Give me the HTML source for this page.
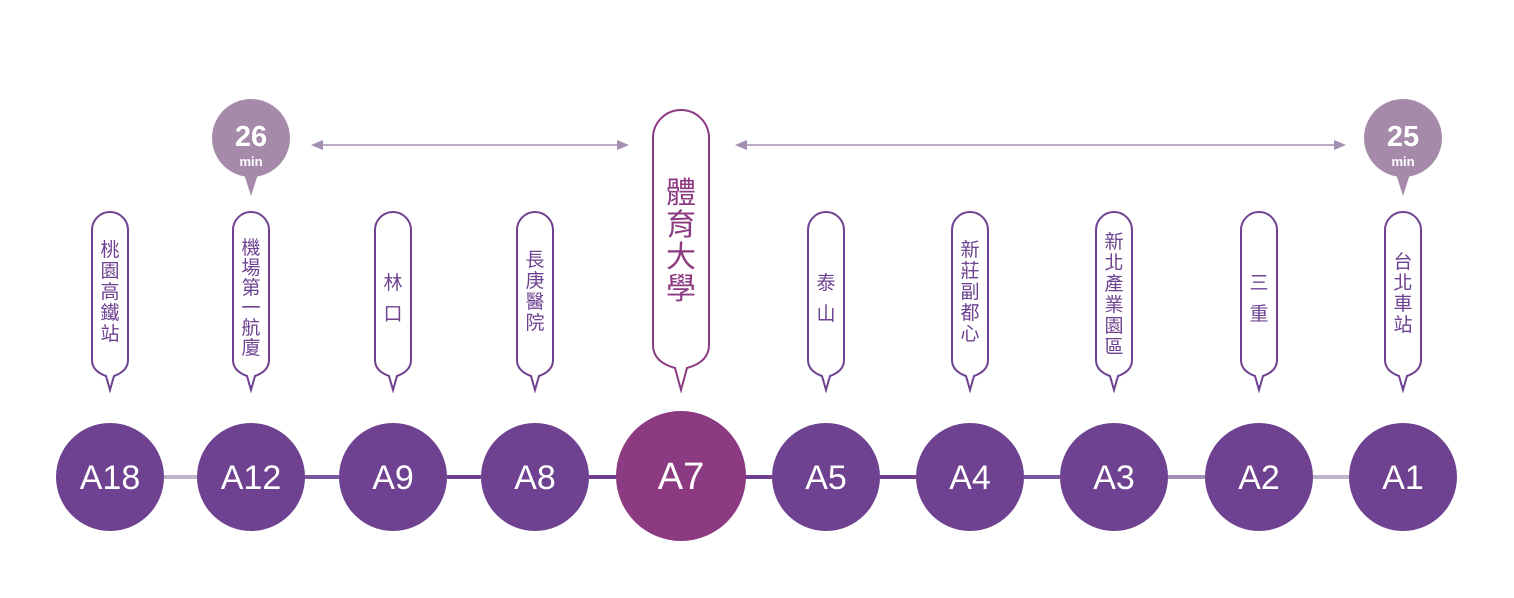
<!DOCTYPE html>
<html><head><meta charset="utf-8"><style>
html,body{margin:0;padding:0;background:#fff;}
svg{display:block}
.c{font-family:"Liberation Sans","Noto Sans CJK TC",sans-serif;}
</style></head><body>
<svg width="1514" height="598" viewBox="0 0 1514 598" xmlns="http://www.w3.org/2000/svg" class="c">
<!-- connectors -->
<g stroke-width="4">
<line x1="164" y1="477" x2="197" y2="477" stroke="#bdb3c9"/>
<line x1="305" y1="477" x2="339" y2="477" stroke="#7a569c"/>
<line x1="447" y1="477" x2="481" y2="477" stroke="#6e3f8f"/>
<line x1="589" y1="477" x2="620" y2="477" stroke="#6e3f8f"/>
<line x1="740" y1="477" x2="772" y2="477" stroke="#6e3f8f"/>
<line x1="880" y1="477" x2="916" y2="477" stroke="#6e3f8f"/>
<line x1="1024" y1="477" x2="1060" y2="477" stroke="#7a569c"/>
<line x1="1168" y1="477" x2="1205" y2="477" stroke="#a48fb8"/>
<line x1="1313" y1="477" x2="1349" y2="477" stroke="#bdb3c9"/>
</g>
<!-- circles -->
<g fill="#6e4290">
<circle cx="110" cy="477" r="54"/><circle cx="251" cy="477" r="54"/><circle cx="393" cy="477" r="54"/><circle cx="535" cy="477" r="54"/>
<circle cx="826" cy="477" r="54"/><circle cx="970" cy="477" r="54"/><circle cx="1114" cy="477" r="54"/><circle cx="1259" cy="477" r="54"/><circle cx="1403" cy="477" r="54"/>
</g>
<circle cx="681" cy="476" r="65" fill="#8c3a82"/>
<g fill="#fff" font-size="34" text-anchor="middle">
<text x="110" y="489">A18</text><text x="251" y="489">A12</text><text x="393" y="489">A9</text><text x="535" y="489">A8</text>
<text x="681" y="489" font-size="38">A7</text>
<text x="826" y="489">A5</text><text x="970" y="489">A4</text><text x="1114" y="489">A3</text><text x="1259" y="489">A2</text><text x="1403" y="489">A1</text>
</g>
<!-- bubbles -->
<g fill="#fff" stroke="#6e4290" stroke-width="2">
<path id="b" d="M92,230 A18,18 0 0 1 128,230 L128,360 Q128,371 114,376 L110,390 L106,376 Q92,371 92,360 Z"/>
<use href="#b" x="141"/><use href="#b" x="283"/><use href="#b" x="425"/><use href="#b" x="716"/><use href="#b" x="860"/><use href="#b" x="1004"/><use href="#b" x="1149"/><use href="#b" x="1293"/>
</g>
<path d="M653,138 A28,28 0 0 1 709,138 L709,345 Q709,362 687,368 L681,390 L675,368 Q653,362 653,345 Z" fill="#fff" stroke="#8c3a82" stroke-width="2"/>
<!-- station names -->
<g fill="#6e4290" font-size="19" text-anchor="middle">
<text x="110" y="256">桃</text><text x="110" y="277">園</text><text x="110" y="298">高</text><text x="110" y="319">鐵</text><text x="110" y="340">站</text>
<text x="251" y="254">機</text><text x="251" y="274">場</text><text x="251" y="294">第</text><text x="251" y="314">一</text><text x="251" y="334">航</text><text x="251" y="354">廈</text>
<text x="393" y="289">林</text><text x="393" y="320">口</text>
<text x="535" y="266">長</text><text x="535" y="287">庚</text><text x="535" y="308">醫</text><text x="535" y="329">院</text>
<text x="826" y="289">泰</text><text x="826" y="320">山</text>
<text x="970" y="256">新</text><text x="970" y="277">莊</text><text x="970" y="298">副</text><text x="970" y="319">都</text><text x="970" y="340">心</text>
<text x="1114" y="248">新</text><text x="1114" y="269">北</text><text x="1114" y="290">產</text><text x="1114" y="311">業</text><text x="1114" y="332">園</text><text x="1114" y="353">區</text>
<text x="1259" y="289">三</text><text x="1259" y="320">重</text>
<text x="1403" y="268">台</text><text x="1403" y="289">北</text><text x="1403" y="310">車</text><text x="1403" y="331">站</text>
</g>
<g fill="#8c3a82" font-size="30" text-anchor="middle">
<text x="681" y="203">體</text><text x="681" y="235">育</text><text x="681" y="267">大</text><text x="681" y="299">學</text>
</g>
<!-- min bubbles -->
<g fill="#a58ba9">
<circle cx="251" cy="138" r="39"/><path d="M244,174 L251,196 L258,174 Z"/>
<circle cx="1403" cy="138" r="39"/><path d="M1396,174 L1403,196 L1410,174 Z"/>
</g>
<g fill="#fff" text-anchor="middle" font-weight="bold">
<text x="251" y="146" font-size="29">26</text><text x="251" y="166" font-size="13">min</text>
<text x="1403" y="146" font-size="29">25</text><text x="1403" y="166" font-size="13">min</text>
</g>
<!-- arrows -->
<g stroke="#a58fb0" stroke-width="1.5"><line x1="320" y1="145" x2="620" y2="145"/><line x1="745" y1="145" x2="1338" y2="145"/></g>
<g fill="#a58fb0">
<path d="M311,145 L323,140 L323,150 Z"/><path d="M629,145 L617,140 L617,150 Z"/>
<path d="M735,145 L747,140 L747,150 Z"/><path d="M1346,145 L1334,140 L1334,150 Z"/>
</g>
</svg>
</body></html>
